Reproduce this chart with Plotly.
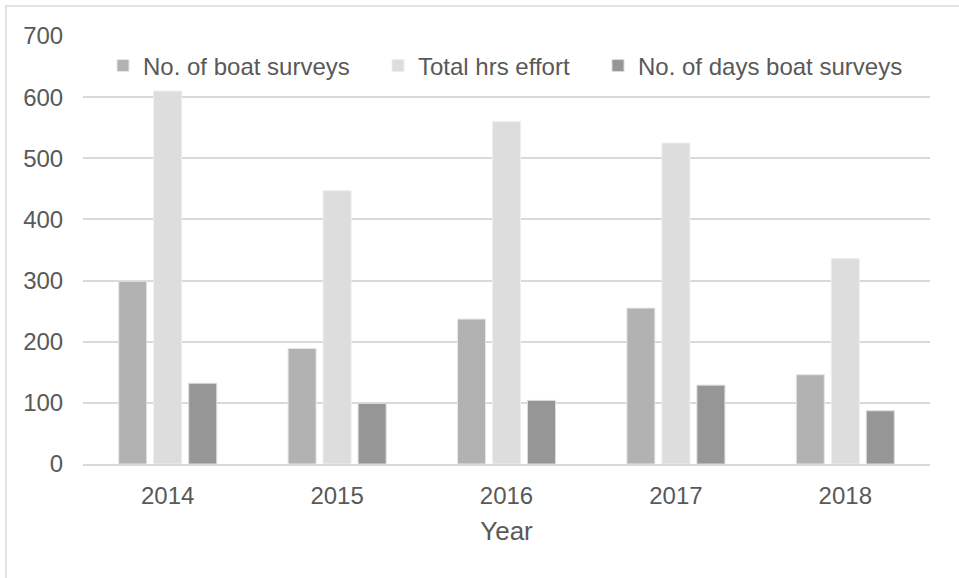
import plotly.graph_objects as go

years = ["2014", "2015", "2016", "2017", "2018"]
boat_surveys = [299, 189, 237, 255, 146]
total_hrs = [610, 447, 560, 525, 336]
days_boat = [132, 99, 104, 129, 87]

y_ticks = [0, 100, 200, 300, 400, 500, 600, 700]

text_color = "#595959"
font_family = "Liberation Sans, Arial, sans-serif"

L, R, T, B = 83, 29, 36, 114
W, H = 959, 578
PW = W - L - R


def px_to_paper(px):
    return (px - L) / PW


fig = go.Figure()
fig.add_trace(go.Bar(name="No. of boat surveys", x=years, y=boat_surveys, legend="legend",
                     marker=dict(color="#b2b2b2", line=dict(color="#e6e6e6", width=1))))
fig.add_trace(go.Bar(name="Total hrs effort", x=years, y=total_hrs, legend="legend2",
                     marker=dict(color="#dddddd", line=dict(color="#eeeeee", width=1))))
fig.add_trace(go.Bar(name="No. of days boat surveys", x=years, y=days_boat, legend="legend3",
                     marker=dict(color="#969696", line=dict(color="#dcdcdc", width=1))))

leg_common = dict(orientation="h", xanchor="left", y=0.93, yanchor="middle",
                  font=dict(size=24, color=text_color), bgcolor="rgba(0,0,0,0)", itemwidth=30)

fig.update_layout(
    width=W, height=H,
    margin=dict(l=L, r=R, t=T, b=B),
    paper_bgcolor="white", plot_bgcolor="white",
    barmode="group", bargap=0.38, bargroupgap=0.2,
    font=dict(family=font_family, color=text_color, size=24),
    showlegend=True,
    legend=dict(x=px_to_paper(143 - 40), **leg_common),
    legend2=dict(x=px_to_paper(418 - 40), **leg_common),
    legend3=dict(x=px_to_paper(638 - 40), **leg_common),
    xaxis=dict(
        showgrid=False, showline=True, linecolor="#d9d9d9", linewidth=1.5,
        ticks="outside", ticklen=9, tickcolor="rgba(0,0,0,0)",
        tickfont=dict(size=24, color=text_color),
        title=dict(text="Year", font=dict(size=26, color=text_color), standoff=14),
    ),
    yaxis=dict(
        range=[0, 700], tickvals=y_ticks, showgrid=True, gridcolor="#d9d9d9", gridwidth=1.5,
        zeroline=False, showline=False,
        ticks="outside", ticklen=14, tickcolor="rgba(0,0,0,0)",
        tickfont=dict(size=24, color=text_color),
    ),
    shapes=[dict(type="rect", xref="paper", yref="paper",
                 x0=px_to_paper(6), x1=1.2, y0=(465 - 600) / 429, y1=(465 - 6) / 429,
                 line=dict(color="#d9d9d9", width=1.5), fillcolor="rgba(0,0,0,0)", layer="below")],
)

fig.write_html("out.html")
